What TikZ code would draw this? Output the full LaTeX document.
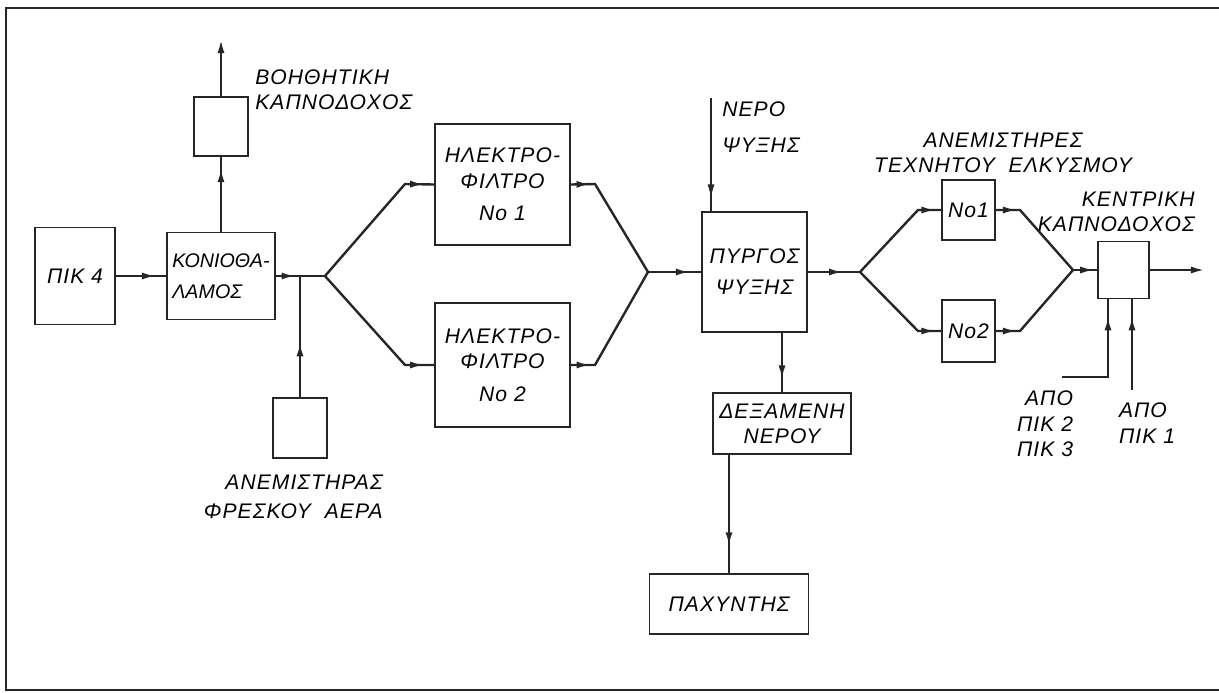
\documentclass[tikz,border=0pt]{standalone}
\usepackage{fontspec}
\setmainfont{Liberation Sans}
\usetikzlibrary{arrows.meta,decorations.markings}

\begin{document}
\begin{tikzpicture}[x=0.025cm, y=-0.025cm,
    txt/.style={font=\fontsize{15}{18}\selectfont\itshape\addfontfeature{LetterSpace=5}},
    box/.style={draw=black!85, line width=1.3pt, inner sep=0pt, align=center, txt},
    lbl/.style={inner sep=0pt, txt},
    pipe/.style={draw=black!85, line width=1.7pt},
    tip/.style={postaction={decorate}, decoration={markings, mark=at position #1 with {\arrow{Latex[length=10pt,width=5pt]}}}},
    endtip/.style={-{Latex[length=10pt,width=5pt]}}]
    \useasboundingbox (0,0) rectangle (1219,692);
    \draw[pipe, line width=1.2pt] (1219,8) -- (6,8) -- (6,690) -- (1219,690);
    \node[box, minimum width=2cm, minimum height=2.425cm] (pik4) at (75,276) {ΠΙΚ 4};
    \node[box, minimum width=2.7cm, minimum height=2.175cm, align=left, font=\fontsize{14}{18}\selectfont\itshape] (konio) at (221,276) {ΚΟΝΙΟΘΑ-\\[4pt]ΛΑΜΟΣ};
    \node[box, minimum width=1.35cm, minimum height=1.475cm] (aux) at (221,126.5) {};
    \node[box, minimum width=1.35cm, minimum height=1.5cm] (fan) at (300,428) {};
    \node[box, minimum width=3.375cm, minimum height=3.025cm] (filt1) at (502.5,184.5) {ΗΛΕΚΤΡΟ-\\ΦΙΛΤΡΟ\\[5pt]Νο 1};
    \node[box, minimum width=3.375cm, minimum height=3.1cm] (filt2) at (502.5,365) {ΗΛΕΚΤΡΟ-\\ΦΙΛΤΡΟ\\[5pt]Νο 2};
    \node[box, minimum width=2.625cm, minimum height=3cm] (tower) at (754.5,272) {ΠΥΡΓΟΣ\\[4pt]ΨΥΞΗΣ};
    \node[box, minimum width=3.45cm, minimum height=1.525cm] (tank) at (782,423.5) {ΔΕΞΑΜΕΝΗ\\ΝΕΡΟΥ};
    \node[box, minimum width=3.975cm, minimum height=1.5cm] (thick) at (729,604) {ΠΑΧΥΝΤΗΣ};
    \node[box, minimum width=1.325cm, minimum height=1.5cm] (fan1) at (968.5,210) {Νο1};
    \node[box, minimum width=1.325cm, minimum height=1.55cm] (fan2) at (968.5,331) {Νο2};
    \node[box, minimum width=1.275cm, minimum height=1.425cm] (stack) at (1123.5,270) {};
    \node[lbl, anchor=west, align=left] (auxlbl) at (255,90) {ΒΟΗΘΗΤΙΚΗ\\ΚΑΠΝΟΔΟΧΟΣ};
    \node[lbl, anchor=east, align=right] (fanlbl) at (383,497) {ΑΝΕΜΙΣΤΗΡΑΣ\\[3pt]ΦΡΕΣΚΟΥ\ \ ΑΕΡΑ};
    \node[lbl, anchor=west, align=left] (waterlbl) at (722,127) {ΝΕΡΟ\\[8pt]ΨΥΞΗΣ};
    \node[lbl, align=center] (draftlbl) at (1003,153) {ΑΝΕΜΙΣΤΗΡΕΣ\\ΤΕΧΝΗΤΟΥ\ \ ΕΛΚΥΣΜΟΥ};
    \node[lbl, anchor=east, align=right] (stacklbl) at (1195,212) {ΚΕΝΤΡΙΚΗ\\ΚΑΠΝΟΔΟΧΟΣ};
    \node[lbl, align=right] (from23) at (1045,424) {ΑΠΟ\\ΠΙΚ 2\\ΠΙΚ 3};
    \node[lbl, align=left] (from1) at (1147,423) {ΑΠΟ\\ΠΙΚ 1};
    \coordinate (auxtop) at (221,39);
    \coordinate (j1) at (325,276);
    \coordinate (b1) at (405,184);
    \coordinate (b2) at (405,365);
    \coordinate (c1) at (595,184);
    \coordinate (c2) at (595,365);
    \coordinate (m1) at (648,272);
    \coordinate (water) at (711,98);
    \coordinate (j2) at (860,272);
    \coordinate (d1) at (918,210);
    \coordinate (d2) at (918,331);
    \coordinate (e1) at (1020,210);
    \coordinate (e2) at (1020,331);
    \coordinate (m2) at (1073,270);
    \coordinate (out) at (1205,270);
    \coordinate (p23) at (1062,377);
    \coordinate (k23) at (1108,377);
    \coordinate (p1) at (1132,390);
    \draw[pipe, tip=0.8] (pik4.east) -- (konio.west |- pik4.east);
    \draw[pipe, tip=14pt] (konio.east) -- (j1);
    \draw[pipe, tip=-8pt] (konio.north) -- (aux.south);
    \draw[pipe, endtip] (aux.north) -- (auxtop);
    \draw[pipe, tip=39pt] (fan.north) -- (fan.north |- j1);
    \draw[pipe, tip=-7pt] (j1) -- (b1) -- (filt1.west);
    \draw[pipe, tip=-7pt] (j1) -- (b2) -- (filt2.west);
    \draw[pipe, tip=14pt] (filt1.east) -- (c1) -- (m1);
    \draw[pipe, tip=14pt] (filt2.east) -- (c2) -- (m1);
    \draw[pipe, tip=-8pt] (m1) -- (tower.west);
    \draw[pipe, line width=1.2pt, tip=-9pt] (water) -- (water |- tower.north);
    \draw[pipe, tip=-9pt] (tank.north |- tower.south) -- (tank.north);
    \draw[pipe, tip=-19pt] (thick.north |- tank.south) -- (thick.north);
    \draw[pipe, tip=25pt] (tower.east) -- (j2);
    \draw[pipe, tip=-4pt] (j2) -- (d1) -- (fan1.west);
    \draw[pipe, tip=-4pt] (j2) -- (d2) -- (fan2.west);
    \draw[pipe, tip=15pt] (fan1.east) -- (e1) -- (m2);
    \draw[pipe, tip=15pt] (fan2.east) -- (e2) -- (m2);
    \draw[pipe, tip=-2pt] (m2) -- (stack.west);
    \draw[pipe, endtip] (stack.east) -- (out);
    \draw[pipe, tip=-12pt] (p23) -- (k23) -- (stack.south -| k23);
    \draw[pipe, tip=-12pt] (p1) -- (stack.south -| p1);
\end{tikzpicture}
\end{document}
